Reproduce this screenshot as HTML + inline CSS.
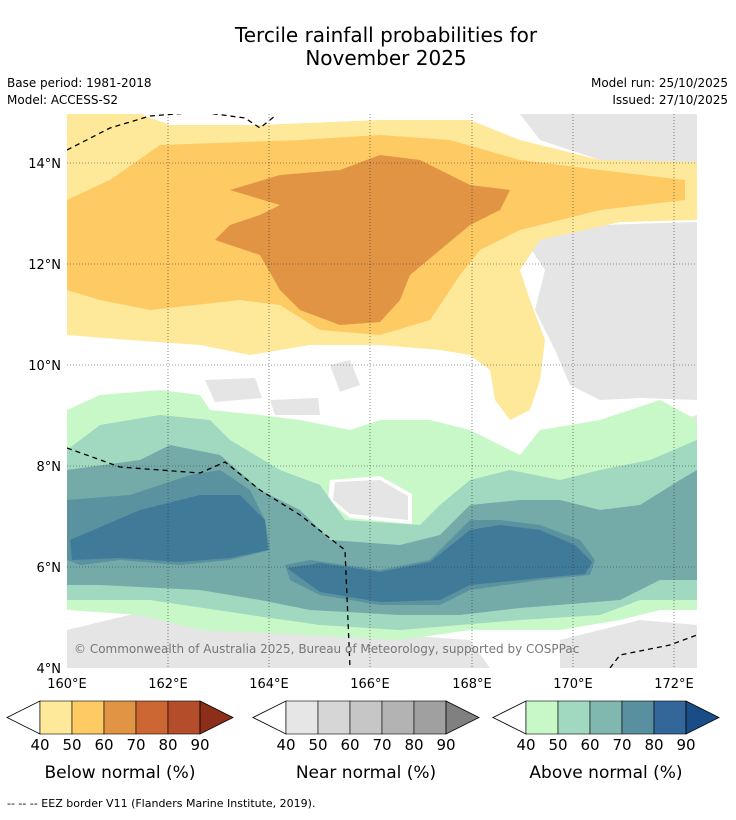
<!DOCTYPE html>
<html><head><meta charset="utf-8"><style>
body{margin:0;background:#fff;font-family:"DejaVu Sans",sans-serif}
</style></head><body>
<svg width="736" height="816" viewBox="0 0 736 816" style="font-family:'DejaVu Sans',sans-serif">
<text x="386" y="42" text-anchor="middle" font-size="20">Tercile rainfall probabilities for</text>
<text x="386" y="65" text-anchor="middle" font-size="20">November 2025</text>
<text x="7" y="87" font-size="12">Base period: 1981-2018</text>
<text x="7" y="104" font-size="12">Model: ACCESS-S2</text>
<text x="728" y="87" font-size="12" text-anchor="end">Model run: 25/10/2025</text>
<text x="728" y="104" font-size="12" text-anchor="end">Issued: 27/10/2025</text>
<defs><clipPath id="mc"><rect x="67" y="114" width="630" height="554"/></clipPath></defs>
<g clip-path="url(#mc)">
<rect x="67" y="114" width="630" height="554" fill="#fff"/>
<g fill="#e5e5e5">
<polygon points="520,114,697,114,697,165,600,160,540,140"/>
<polygon points="525,240,600,225,697,222,697,400,640,398,600,400,570,385,555,350,535,310,545,270"/>
<polygon points="520,470,560,440,610,420,660,425,697,415,697,560,650,520,600,490,560,485"/>
<polygon points="67,630,150,610,300,605,400,635,470,640,490,668,67,668"/>
<polygon points="560,640,640,620,697,625,697,668,560,668"/>
<polygon points="205,380,255,378,262,398,215,402"/>
<polygon points="270,400,318,398,320,415,275,415"/>
<polygon points="330,365,350,360,360,385,340,392"/>
</g>
<polygon fill="#fee89a" points="67,114,140,114,170,125,260,125,380,120,470,120,520,140,600,160,697,162,697,220,620,222,540,240,520,270,530,300,545,340,540,380,530,410,510,420,495,400,490,370,470,355,440,350,380,345,310,345,250,355,200,345,130,340,67,335"/>
<polygon fill="#fdca63" points="67,200,110,180,160,145,300,140,380,135,450,140,520,160,600,170,685,180,685,200,600,210,520,230,480,250,460,275,430,320,380,335,320,330,280,305,240,300,150,310,100,300,67,290"/>
<polygon fill="#e09444" points="230,190,280,175,340,170,380,155,420,160,470,185,510,190,500,210,470,225,440,250,410,275,400,300,380,322,340,325,300,310,280,290,260,255,215,240,230,225,260,215,280,205"/>
<polygon fill="#c8f8c8" points="67,410,100,395,160,390,200,395,210,410,260,415,300,420,350,430,380,420,430,420,470,430,520,455,540,430,600,420,660,400,697,420,697,610,660,610,620,620,560,630,470,630,400,640,300,635,200,630,140,615,67,610"/>
<polygon fill="#fff" points="330,480,380,476,412,494,412,524,350,518,328,500"/>
<polygon fill="#e5e5e5" points="335,482,380,480,408,496,408,520,350,514,333,500"/>
<polygon fill="#a0d8c0" points="67,450,100,425,160,415,210,420,230,440,280,470,320,485,345,520,420,525,440,505,470,480,510,470,560,480,600,470,650,460,697,440,697,600,640,600,600,615,520,620,460,625,400,630,320,625,250,615,150,600,67,600"/>
<polygon fill="#74aaa8" points="67,470,140,460,170,445,220,455,260,490,300,510,330,540,400,545,440,535,470,505,520,500,560,500,600,510,640,505,680,480,697,470,697,580,660,580,620,600,520,608,460,615,400,615,310,610,260,600,200,590,100,585,67,585"/>
<polygon fill="#5a92a0" points="67,500,130,495,190,475,220,470,250,490,265,520,270,550,230,560,180,565,120,560,80,565,67,560"/>
<polygon fill="#5a92a0" points="285,565,310,560,380,570,430,560,470,520,500,520,540,525,580,540,595,560,590,575,540,580,470,590,440,605,380,605,320,595,290,580"/>
<polygon fill="#3f7a98" points="70,540,140,510,200,495,240,495,265,520,268,550,230,558,180,562,120,558,72,560"/>
<polygon fill="#3f7a98" points="287,568,320,563,380,572,430,562,470,530,500,525,540,530,575,545,592,562,585,574,540,578,470,585,440,600,380,602,320,592"/>
<g stroke="#333" stroke-width="0.6" stroke-dasharray="1,2">
<line x1="168" y1="114" x2="168" y2="668"/><line x1="269" y1="114" x2="269" y2="668"/><line x1="370" y1="114" x2="370" y2="668"/><line x1="472" y1="114" x2="472" y2="668"/><line x1="573" y1="114" x2="573" y2="668"/><line x1="674" y1="114" x2="674" y2="668"/>
<line x1="67" y1="163" x2="697" y2="163"/><line x1="67" y1="264" x2="697" y2="264"/><line x1="67" y1="365" x2="697" y2="365"/><line x1="67" y1="466" x2="697" y2="466"/><line x1="67" y1="567" x2="697" y2="567"/>
</g>
<g fill="none" stroke="#000" stroke-width="1.3" stroke-dasharray="5,4">
<polyline points="67,150,110,128,150,116,200,112,245,118,260,128,275,116"/>
<polyline points="67,448,120,467,200,473,225,462,260,490,300,515,345,550,350,668"/>
<polyline points="610,668,620,655,670,645,697,635"/>
</g>
<text x="74" y="653" font-size="12" fill="#777">© Commonwealth of Australia 2025, Bureau of Meteorology, supported by COSPPac</text>
</g>
<g font-size="13">
<text x="61" y="168" text-anchor="end">14°N</text><text x="61" y="269" text-anchor="end">12°N</text><text x="61" y="370" text-anchor="end">10°N</text><text x="61" y="471" text-anchor="end">8°N</text><text x="61" y="572" text-anchor="end">6°N</text><text x="61" y="673" text-anchor="end">4°N</text>
</g>
<g font-size="13" text-anchor="middle">
<text x="67" y="688">160°E</text><text x="168" y="688">162°E</text><text x="269" y="688">164°E</text><text x="370" y="688">166°E</text><text x="472" y="688">168°E</text><text x="573" y="688">170°E</text><text x="674" y="688">172°E</text>
</g>
<g id="bars"></g>
<text x="7" y="807" font-size="11">-- -- -- EEZ border V11 (Flanders Marine Institute, 2019).</text>
<script>
const tickLabels=["40","50","60","70","80","90"];
const belowColors=["#fee89a","#fdca63","#e09444","#cc6633","#b34d2a","#8c2e1a"];
const nearColors=["#e6e6e6","#d6d6d6","#c6c6c6","#b3b3b3","#a0a0a0","#808080"];
const aboveColors=["#c8f8c8","#a0d8c0","#80b8b0","#5890a0","#336699","#1a4d88"];
const barTitles=["Below normal (%)","Near normal (%)","Above normal (%)"];
const ns="http://www.w3.org/2000/svg";
const g=document.getElementById('bars');
function mk(t,a){const e=document.createElementNS(ns,t);for(const k in a)e.setAttribute(k,a[k]);g.appendChild(e);return e;}
[[40,belowColors],[286,nearColors],[526,aboveColors]].forEach(([x0,cols],b)=>{
 const w=32,y=701,h=33;
 let e=mk('polygon',{points:`${x0-33},${y+h/2} ${x0},${y} ${x0},${y+h}`,fill:'#fff',stroke:'#000','stroke-width':0.8});
 
 
 for(let i=0;i<5;i++){e=mk('rect',{x:x0+i*w,y:y,width:w,height:h,fill:cols[i],stroke:'#000','stroke-width':0.6});
 
 }
 const xe=x0+5*w;
 e=mk('polygon',{points:`${xe},${y} ${xe+33},${y+h/2} ${xe},${y+h}`,fill:cols[5],stroke:'#000','stroke-width':0.8});
 
 
 tickLabels.forEach((t,i)=>{e=mk('text',{x:x0+i*w,y:750,'font-size':15,'text-anchor':'middle'});e.textContent=t;
 
 });
 e=mk('text',{x:x0+80,y:778,'font-size':17,'text-anchor':'middle'});e.textContent=barTitles[b];
 
 
});
</script>
</svg>
</body></html>
